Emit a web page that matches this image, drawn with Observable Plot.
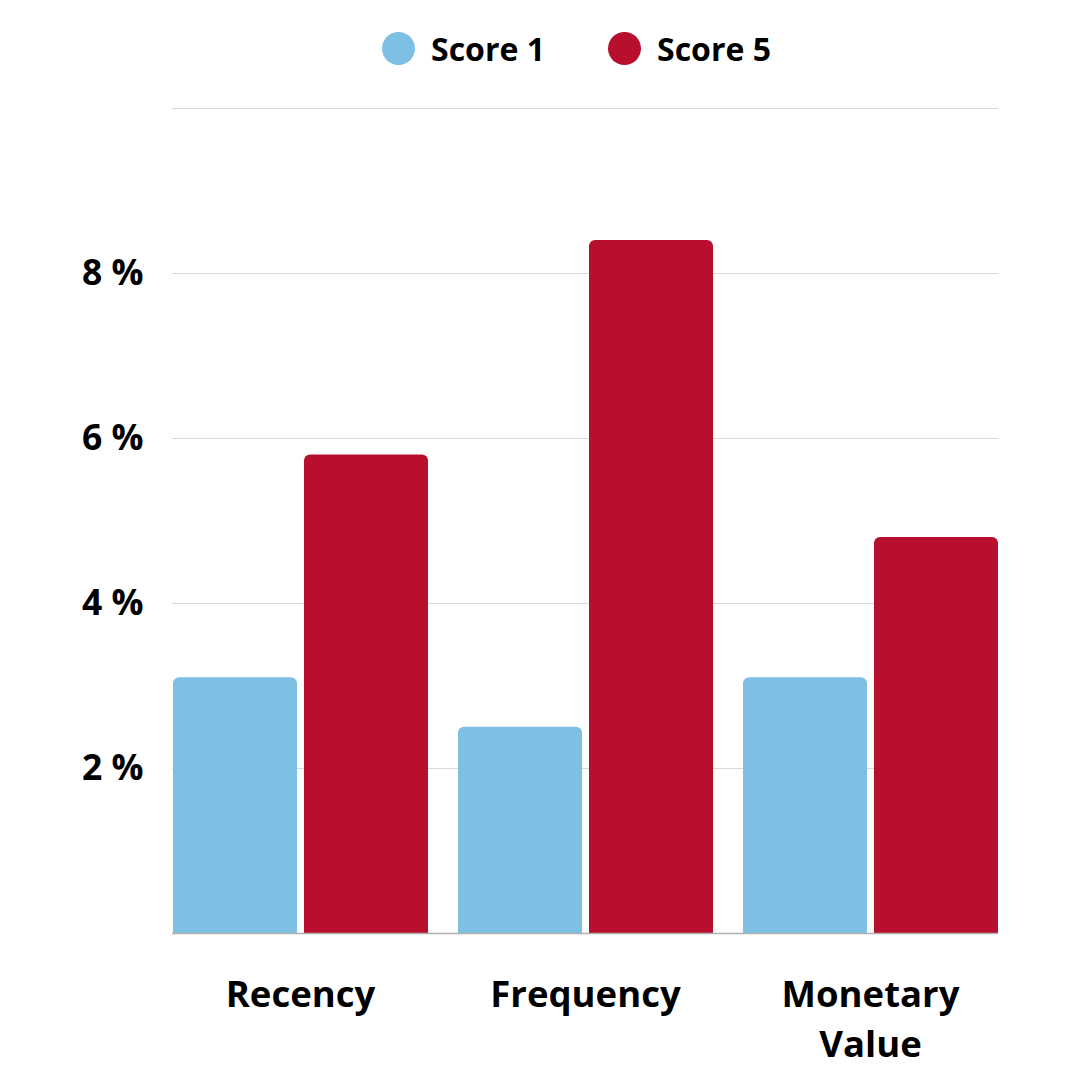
<!DOCTYPE html>
<html>
<head>
<meta charset="utf-8">
<script src="https://cdn.jsdelivr.net/npm/d3@7"></script>
<script src="https://cdn.jsdelivr.net/npm/@observablehq/plot@0.6"></script>
<style>
  html, body { margin: 0; padding: 0; background: #fff; }
  body { width: 1080px; height: 1080px; overflow: hidden; font-family: "Open Sans", sans-serif; }
  #legend { height: 100px; position: relative; }
  .item { position: absolute; top: -2px; height: 100px; display: flex; align-items: center; font-weight: 700; font-size: 32px; color: #000; }
  .dot { width: 33px; height: 33px; border-radius: 50%; margin-right: 16px; }
  #chart svg { display: block; }
</style>
</head>
<body>
<div id="legend"></div>
<div id="chart"></div>
<script>
const categories = ["Recency", "Frequency", "Monetary Value"];
const series = ["Score 1", "Score 5"];
const score1 = [3.1, 2.5, 3.1];
const score5 = [5.8, 8.4, 4.8];
const yTicks = [2, 4, 6, 8];
const gridValues = [2, 4, 6, 8, 10];
const colors = ["#7DC0E4", "#B80F2E"];

const data = [];
categories.forEach((c, i) => {
  data.push({category: c, series: series[0], value: score1[i]});
  data.push({category: c, series: series[1], value: score5[i]});
});

// legend
const legend = document.getElementById("legend");
const legendX = [382, 608];
series.forEach((s, i) => {
  const el = document.createElement("div");
  el.className = "item";
  el.style.left = legendX[i] + "px";
  el.innerHTML = `<span class="dot" style="background:${colors[i]}"></span><span>${s}</span>`;
  legend.appendChild(el);
});

const W = 1080, ML = 172, MR = 82;
const plotW = W - ML - MR;

const chart = Plot.plot({
  width: W,
  height: 980,
  marginTop: 8,
  marginBottom: 147,
  marginLeft: ML,
  marginRight: MR,
  style: {fontFamily: "Open Sans, sans-serif", fontWeight: 700, color: "#000", background: "#fff", overflow: "visible"},
  fx: {domain: categories, paddingInner: 0.102, paddingOuter: 0, label: null},
  x: {domain: series, paddingInner: 0.055, paddingOuter: 0, axis: null},
  y: {domain: [0, 10], label: null},
  color: {domain: series, range: colors},
  marks: [
    Plot.axisY(gridValues, {tickSize: -plotW, text: null, stroke: "#d9d9d9", strokeWidth: 1.2, strokeOpacity: 1, label: null}),
    Plot.barY(data, {fx: "category", x: "series", y: "value", fill: "series", ry1: 6}),
    Plot.axisY([0], {tickSize: -plotW, text: null, stroke: "#b0b0b0", strokeWidth: 1.5, strokeOpacity: 1, label: null}),
    Plot.axisY(yTicks, {tickSize: 0, tickPadding: 29, fontSize: 35.5, fontWeight: 700, tickFormat: d => d + " %", label: null}),
    Plot.axisFx({anchor: "bottom", tickSize: 0, tickPadding: 38, fontSize: 36.5, fontWeight: 700, lineWidth: 6, lineHeight: 1.37, label: null,
      tickFormat: d => d === "Monetary Value" ? "Monetary\nValue" : d})
  ]
});
document.getElementById("chart").appendChild(chart);
</script>
</body>
</html>
